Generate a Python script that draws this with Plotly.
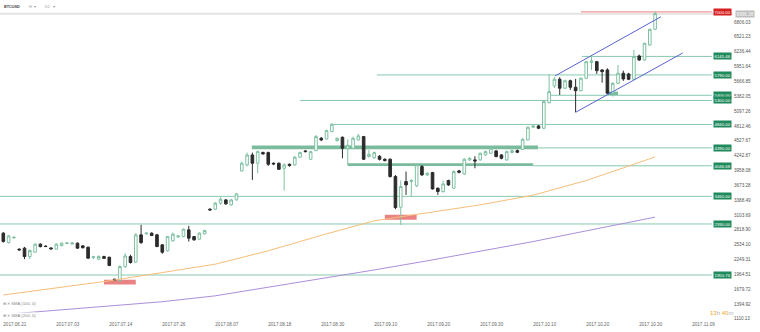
import plotly.graph_objects as go

# ---------------- data ----------------
bars = list(range(124))
opens = [2754, 2573, 2662, 2447, 2466, 2305, 2389, 2543, 2505, 2470,
         2447, 2516, 2555, 2545, 2562, 2510, 2485, 2285, 2255, 2305,
         2293, 1870, 1845, 2114, 2305, 2198, 2721, 2740, 2754, 2721,
         2530, 2414, 2606, 2680, 2688, 2817, 2688, 2638, 2740, 3214,
         3214, 3329, 3392, 3297, 3392, 3948, 4064, 4255, 4096, 4300,
         4300, 4096, 4096, 4000, 4076, 4064, 4211, 4332, 4172, 4338,
         4575, 4562, 4703, 4530, 4594, 4380, 4383, 4543, 4607, 4223,
         4200, 4230, 4172, 4172, 3840, 3252, 3744, 3744, 3661, 4032,
         3872, 3917, 3616, 3552, 3763, 3616, 3949, 3891, 4160, 4160,
         4160, 4255, 4287, 4332, 4255, 4160, 4300, 4338, 4364, 4543,
         4786, 4811, 4767, 5258, 5578, 5707, 5535, 5680, 5554, 5488,
         5726, 6030, 6045, 5886, 5886, 5439, 5630, 5822, 5809, 5707,
         6154, 6077, 6365, 6666]
highs = [2773, 2720, 2688, 2462, 2491, 2443, 2562, 2560, 2520, 2480,
         2560, 2575, 2575, 2580, 2575, 2520, 2495, 2320, 2330, 2320,
         2300, 1880, 2137, 2370, 2340, 2754, 2913, 2770, 2770, 2740,
         2540, 2700, 2765, 2715, 2845, 2894, 2700, 2770, 2820, 3230,
         3350, 3444, 3410, 3410, 3525, 4127, 4300, 4300, 4338, 4320,
         4319, 4110, 4110, 4096, 4090, 4236, 4319, 4345, 4330, 4639,
         4600, 4740, 4863, 4590, 4610, 4555, 4607, 4658, 4620, 4351,
         4320, 4250, 4190, 4190, 3870, 3763, 3936, 3790, 4090, 4060,
         3920, 3930, 3630, 3763, 3780, 3960, 3970, 4190, 4210, 4230,
         4300, 4340, 4410, 4350, 4270, 4340, 4360, 4360, 4580, 4800,
         4830, 4830, 5300, 5800, 5751, 5746, 5700, 5700, 5713, 5740,
         6060, 6135, 6060, 5900, 5918, 5650, 5981, 5872, 5830, 6269,
         6180, 6410, 6680, 7007]
lows = [2573, 2555, 2650, 2420, 2255, 2255, 2376, 2480, 2490, 2440,
        2440, 2500, 2545, 2535, 2455, 2460, 2265, 2255, 2240, 2260,
        2120, 1840, 1820, 2083, 2170, 2184, 2549, 2730, 2700, 2485,
        2357, 2400, 2590, 2670, 2675, 2593, 2610, 2625, 2730, 3190,
        3200, 3297, 3300, 3280, 3380, 3936, 4032, 3776, 3904, 4260,
        4044, 4060, 3968, 3571, 4030, 4050, 4200, 4305, 4160, 4330,
        4520, 4550, 4690, 4510, 4191, 4063, 4370, 4530, 4160, 4200,
        4180, 4150, 4130, 3820, 3213, 2913, 3488, 3456, 3640, 3850,
        3850, 3590, 3488, 3530, 3660, 3600, 3900, 3870, 4140, 3999,
        4140, 4240, 4270, 4210, 4170, 4140, 4290, 4290, 4350, 4530,
        4770, 4750, 4750, 5240, 5540, 5406, 5520, 5502, 5074, 5470,
        5710, 5886, 5809, 5642, 5430, 5374, 5610, 5675, 5690, 5690,
        6060, 6060, 6350, 6650]
closes = [2593, 2702, 2675, 2433, 2305, 2420, 2543, 2497, 2497, 2453,
          2543, 2562, 2566, 2565, 2466, 2475, 2274, 2300, 2305, 2270,
          2133, 1855, 2114, 2318, 2190, 2721, 2573, 2754, 2708, 2497,
          2389, 2688, 2735, 2700, 2830, 2658, 2625, 2754, 2804, 3200,
          3329, 3406, 3316, 3392, 3507, 4096, 4255, 4096, 4319, 4275,
          4076, 4083, 3980, 4064, 4051, 4211, 4300, 4319, 4319, 4607,
          4543, 4722, 4843, 4575, 4383, 4440, 4575, 4620, 4172, 4268,
          4300, 4170, 4147, 3840, 3245, 3648, 3680, 3763, 4064, 3872,
          3904, 3603, 3552, 3699, 3680, 3936, 3923, 4172, 4191, 4140,
          4287, 4319, 4383, 4223, 4191, 4319, 4338, 4306, 4556, 4786,
          4811, 4767, 5278, 5469, 5707, 5535, 5680, 5554, 5488, 5726,
          6045, 6058, 5872, 5853, 5439, 5630, 5822, 5713, 5707, 6141,
          6077, 6397, 6666, 6966.38]

current_price = 6966.38

sma100_bars = [0, 10, 20, 30, 40, 50, 60, 70, 80, 90, 100, 110, 117, 123]
sma100_vals = [1567, 1705, 1839, 1998, 2159, 2416, 2712, 2992, 3145, 3297, 3483, 3765, 4006, 4217]
sma200_bars = [0, 10, 20, 30, 40, 50, 60, 70, 80, 90, 100, 110, 123]
sma200_vals = [1193, 1275, 1358, 1438, 1551, 1716, 1877, 2048, 2223, 2409, 2593, 2798, 3061]

x_tick_bars = [0, 10, 20, 30, 40, 50, 60, 70, 80, 90, 100, 110, 120, 130]
x_tick_labels = ["2017.06.21", "2017.07.03", "2017.07.14", "2017.07.26", "2017.08.07",
                 "2017.08.18", "2017.08.30", "2017.09.10", "2017.09.20", "2017.09.30",
                 "2017.10.10", "2017.10.20", "2017.10.30", "2017.11.09"]
y_tick_values = [1110.13, 1394.92, 1679.72, 1964.51, 2249.31, 2534.10, 2818.90,
                 3103.69, 3388.49, 3673.28, 3958.08, 4242.87, 4527.67, 4812.46,
                 5097.26, 5382.05, 5666.85, 5951.64, 6236.44, 6521.23, 6806.03]

# horizontal support / resistance levels
level_prices = [6145.46, 5790.00, 5400.00, 5300.00, 4840.00, 4390.00, 4046.68, 3460.00, 2930.00, 1950.76]
level_start_bar = [109.2, 70.5, 102.8, 56.0, 62.0, 100.9, 100.0, -1.0, -1.0, -1.0]
resistance_price = 7000.00
resistance_start_bar = 109.0

# thick zones (start bar, end bar, low, high)
green_band_start = [46.9, 65.0, 114.1]
green_band_end = [100.9, 100.0, 116.0]
green_band_low = [4365, 4045, 5406]
green_band_high = [4434, 4096, 5470]
red_zone_start = [19.0, 72.0]
red_zone_end = [25.0, 78.0]
red_zone_low = [1768, 3009]
red_zone_high = [1858, 3105]

# trend channel
channel_upper_bars = [104.1, 124.1]
channel_upper_vals = [5770, 6907]
channel_lower_bars = [108.0, 128.2]
channel_lower_vals = [5073, 6211]

# ---------------- figure ----------------
W, H = 760, 332
ML, MR, MT, MB = 0, 27, 0, 12
PW, PH = W - ML - MR, H - MT - MB
X_RANGE = [-0.623, 137.7]
Y_RANGE = [7228.2 - PH * 19.19, 7228.2]
LINE_END_BAR = 133.7
LABEL_X_BAR = 135.7

def px(xp):
    return (xp - ML) / PW

def py(yp):
    return 1 - (yp - MT) / PH

fig = go.Figure()

shapes = []
# current price line
shapes.append(dict(type="line", xref="paper", yref="y", x0=0, x1=1,
                   y0=current_price, y1=current_price,
                   line=dict(color="#e3e3e3", width=2), layer="below"))
# levels
for p, s in zip(level_prices, level_start_bar):
    shapes.append(dict(type="line", xref="x", yref="y", x0=s, x1=LINE_END_BAR, y0=p, y1=p,
                       line=dict(color="#86c9ad", width=1), layer="below"))
shapes.append(dict(type="line", xref="x", yref="y", x0=resistance_start_bar, x1=LINE_END_BAR,
                   y0=resistance_price, y1=resistance_price,
                   line=dict(color="#ef7f7f", width=1), layer="below"))
for s, e, lo, hi in zip(green_band_start, green_band_end, green_band_low, green_band_high):
    shapes.append(dict(type="rect", xref="x", yref="y", x0=s, x1=e, y0=lo, y1=hi,
                       fillcolor="rgba(52,150,105,0.65)", line=dict(width=0), layer="below"))
for s, e, lo, hi in zip(red_zone_start, red_zone_end, red_zone_low, red_zone_high):
    shapes.append(dict(type="rect", xref="x", yref="y", x0=s, x1=e, y0=lo, y1=hi,
                       fillcolor="rgba(226,90,90,0.75)", line=dict(width=0), layer="below"))

fig.add_trace(go.Scatter(x=sma100_bars, y=sma100_vals, mode="lines",
                         line=dict(color="#f8bd7a", width=1), hoverinfo="skip", showlegend=False))
fig.add_trace(go.Scatter(x=sma200_bars, y=sma200_vals, mode="lines",
                         line=dict(color="#a98fdb", width=1), hoverinfo="skip", showlegend=False))
fig.add_trace(go.Scatter(x=channel_upper_bars, y=channel_upper_vals, mode="lines",
                         line=dict(color="#5a62cf", width=1), hoverinfo="skip", showlegend=False))
fig.add_trace(go.Scatter(x=channel_lower_bars, y=channel_lower_vals, mode="lines",
                         line=dict(color="#5a62cf", width=1), hoverinfo="skip", showlegend=False))

fig.add_trace(go.Candlestick(
    x=bars, open=opens, high=highs, low=lows, close=closes,
    increasing=dict(line=dict(color="#7fc0a2", width=1), fillcolor="#ffffff"),
    decreasing=dict(line=dict(color="#2b2b2b", width=1), fillcolor="#2b2b2b"),
    whiskerwidth=0, showlegend=False, hoverinfo="skip"))

ann = []
FONT = "Liberation Sans, Arial, sans-serif"
for p in level_prices:
    ann.append(dict(xref="x", yref="y", x=LABEL_X_BAR, y=p, text=f"{p:.2f}", showarrow=False,
                    font=dict(family=FONT, size=4.3, color="#ffffff"),
                    bgcolor="#1f8a5c", borderpad=0.6, xanchor="center", yanchor="middle"))
ann.append(dict(xref="x", yref="y", x=LABEL_X_BAR, y=resistance_price, text=f"{resistance_price:.2f}",
                showarrow=False, font=dict(family=FONT, size=4.3, color="#ffffff"),
                bgcolor="#d62020", borderpad=0.6, xanchor="center", yanchor="middle"))
ann.append(dict(xref="paper", yref="y", x=px(735), y=current_price, text=f"{current_price:.2f}",
                showarrow=False, font=dict(family=FONT, size=4.6, color="#ffffff"),
                bgcolor="#bdbdbd", borderpad=0.6, xanchor="left", yanchor="middle"))
# header
ann.append(dict(xref="paper", yref="paper", x=px(2), y=py(7), text="<b>BTCUSD</b>", showarrow=False,
                font=dict(family=FONT, size=3.8, color="#444"), xanchor="left", yanchor="middle"))
ann.append(dict(xref="paper", yref="paper", x=px(27), y=py(7), text="H  ▾", showarrow=False,
                font=dict(family=FONT, size=3.8, color="#999"), xanchor="left", yanchor="middle"))
ann.append(dict(xref="paper", yref="paper", x=px(43), y=py(7), text="D1   ▾", showarrow=False,
                font=dict(family=FONT, size=3.8, color="#999"), xanchor="left", yanchor="middle"))
# indicator legend
for yy, name in [(303.5, "SMA (100, 0)"), (315.3, "SMA (200, 0)")]:
    ann.append(dict(xref="paper", yref="paper", x=px(2), y=py(yy), text="⊞ ✕ " + name, showarrow=False,
                    font=dict(family=FONT, size=4.2, color="#888"), bgcolor="#ffffff",
                    xanchor="left", yanchor="middle", borderpad=0))
# countdown
ann.append(dict(xref="paper", yref="paper", x=px(708), y=py(313),
                text="<span style='color:#f5a623'>13</span><span style='color:#b0b0b0'>h</span> "
                     "<span style='color:#f5a623'>40</span><span style='color:#b0b0b0'>m</span>",
                showarrow=False, font=dict(family=FONT, size=6), xanchor="left", yanchor="middle"))

fig.update_layout(
    width=W, height=H, margin=dict(l=ML, r=MR, t=MT, b=MB),
    paper_bgcolor="#ffffff", plot_bgcolor="#ffffff",
    shapes=shapes, annotations=ann, showlegend=False,
    xaxis=dict(range=X_RANGE, tickvals=x_tick_bars, ticktext=x_tick_labels,
               ticklabelposition="outside right", ticks="", showgrid=False, zeroline=False,
               showline=False, rangeslider=dict(visible=False),
               tickfont=dict(family=FONT, size=4.6, color="#666")),
    yaxis=dict(range=Y_RANGE, side="right", tickvals=y_tick_values,
               ticktext=[f"{v:.2f}" for v in y_tick_values], ticks="", showgrid=False,
               zeroline=False, showline=False,
               tickfont=dict(family=FONT, size=4.6, color="#555")),
)

fig.write_html("out.html")
